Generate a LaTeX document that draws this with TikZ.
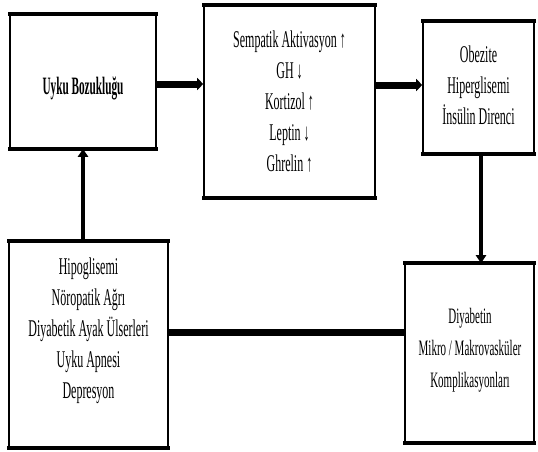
\documentclass[tikz,border=0pt]{standalone}
\usepackage{fontspec}
\setmainfont[FakeStretch=0.5]{Liberation Serif}
\newfontfamily\titlefont[FakeStretch=0.45]{Liberation Serif}
\usetikzlibrary{arrows.meta}
\tikzset{
  box/.style={draw, line width=1.6pt, inner sep=0pt},
  edgeline/.style={line width=3.6pt, line cap=butt},
  lbl/.style={align=center, inner sep=0pt, font=\fontsize{24}{31}\selectfont},
  fatarrow/.style={line width=7pt, -{Triangle[length=6pt,width=12pt]}},
  thinarrow/.style={line width=3.6pt, -{Triangle[length=8pt,width=10pt]}},
  fatline/.style={line width=7pt}
}
\begin{document}
\begin{tikzpicture}[x=1pt,y=-1pt]
\useasboundingbox (0,0) rectangle (538,451);
% boxes
\node[box, minimum width=146pt, minimum height=133pt] (b1) at (83,81.5) {};
\node[box, minimum width=171pt, minimum height=191pt] (b2) at (289.5,101.5) {};
\node[box, minimum width=111pt, minimum height=131pt] (b3) at (478.5,87.5) {};
\node[box, minimum width=159pt, minimum height=205pt] (b4) at (88.5,344.5) {};
\node[box, minimum width=129pt, minimum height=178pt] (b5) at (469.5,353) {};
\foreach \b in {b1,b2,b3,b4,b5}{
  \draw[edgeline] ([xshift=-0.8pt]\b.north west) -- ([xshift=0.8pt]\b.north east);
  \draw[edgeline] ([xshift=-0.8pt]\b.south west) -- ([xshift=0.8pt]\b.south east);
}
% texts
\node[lbl, font=\fontsize{25}{31}\titlefont\bfseries\selectfont] (t1) at (83,88) {Uyku Bozukluğu};
\node[lbl] (t2) at (289.5,102) {Sempatik Aktivasyon ↑\\GH ↓\\Kortizol ↑\\Leptin ↓\\Ghrelin ↑};
\node[lbl] (t3) at (478.5,85) {Obezite\\Hiperglisemi\\İnsülin Direnci};
\node[lbl] (t4) at (88.5,331) {Hipoglisemi\\Nöropatik Ağrı\\Diyabetik Ayak Ülserleri\\Uyku Apnesi\\Depresyon};
\node[lbl, font=\fontsize{22}{32}\selectfont] (t5) at (470,350) {Diyabetin\\Mikro / Makrovasküler\\Komplikasyonları};
% connectors
\draw[fatarrow] (b1.east |- 0,84) -- (b2.west |- 0,84);
\draw[fatarrow] (b2.east |- 0,85) -- (b3.west |- 0,85);
\draw[thinarrow] (b3.south -| 481,0) -- (b5.north -| 481,0);
\draw[thinarrow] (b4.north -| 83,0) -- (b1.south -| 83,0);
\draw[fatline] (b4.east |- 0,332) -- (b5.west |- 0,332);
\end{tikzpicture}
\end{document}
